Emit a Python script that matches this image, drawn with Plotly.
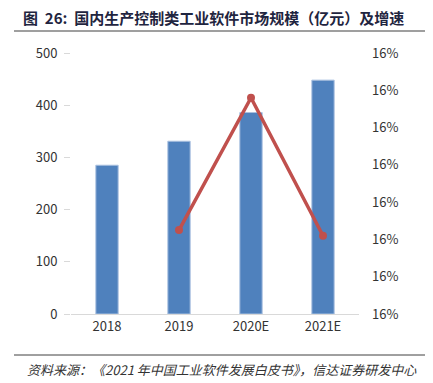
import plotly.graph_objects as go

years = ["2018", "2019", "2020E", "2021E"]
market_size = [285, 331, 386, 448]
growth_years = ["2019", "2020E", "2021E"]
growth = [0.16045, 0.16116, 0.16042]
left_ticks = [0, 100, 200, 300, 400, 500]
right_ticks = [0.1600, 0.1602, 0.1604, 0.1606, 0.1608, 0.1610, 0.1612, 0.1614]

fig = go.Figure()
fig.add_trace(go.Bar(x=years, y=market_size,
                     marker=dict(color="#4F81BD", line=dict(color="#A9C0E0", width=1)),
                     width=0.31, yaxis="y"))
fig.add_trace(go.Scatter(x=growth_years, y=growth, mode="lines+markers", yaxis="y2",
                         line=dict(color="#C0504D", width=3.5),
                         marker=dict(color="#C0504D", size=8)))

font = "Noto Sans CJK SC, Open Sans, sans-serif"
W, H = 425, 375
L, R, T, B = 63, 74, 45, 69
pw, ph = W - L - R, H - T - B


def px_x(x):
    return (x - 8 - L) / pw


def px_y(y):
    return (H - B - (y - 8)) / ph


fig.update_layout(
    width=W, height=H,
    margin=dict(l=L, r=R, t=T, b=B),
    paper_bgcolor="white", plot_bgcolor="white",
    showlegend=False,
    font=dict(family=font, size=13, color="#333333"),
    xaxis=dict(showgrid=False, showline=True, linecolor="#D9D9D9", linewidth=1,
               ticks="", tickfont=dict(size=13, color="#333333"), range=[-0.5, 3.5]),
    yaxis=dict(range=[0, 500], tickvals=left_ticks, showgrid=False, zeroline=False,
               ticks="outside", ticklen=6, tickcolor="#D9D9D9", ticklabelstandoff=4,
               tickfont=dict(size=13, color="#333333")),
    yaxis2=dict(range=[right_ticks[0], right_ticks[-1]], tickvals=right_ticks, tickformat=".0%",
                overlaying="y", side="right", showgrid=False, zeroline=False, showline=False,
                ticklabelstandoff=12, tickfont=dict(size=13, color="#333333")),
    shapes=[
        dict(type="line", xref="paper", yref="paper", x0=px_x(14), x1=px_x(433),
             y0=px_y(31), y1=px_y(31), line=dict(color="#404040", width=1.2)),
        dict(type="line", xref="paper", yref="paper", x0=px_x(14), x1=px_x(433),
             y0=px_y(355), y1=px_y(355), line=dict(color="#404040", width=1)),
    ],
    annotations=[
        dict(text="<b>图  26:  国内生产控制类工业软件市场规模（亿元）及增速</b>",
             xref="paper", yref="paper", x=px_x(21), y=px_y(18),
             xanchor="left", yanchor="middle", showarrow=False,
             font=dict(family=font, size=15, color="#1F2540")),
        dict(text="<i>资料来源：《2021 年中国工业软件发展白皮书》，信达证券研发中心</i>",
             xref="paper", yref="paper", x=px_x(25), y=px_y(369),
             xanchor="left", yanchor="middle", showarrow=False,
             font=dict(family=font, size=13, color="#333333")),
    ],
)

fig.write_html("out.html")
